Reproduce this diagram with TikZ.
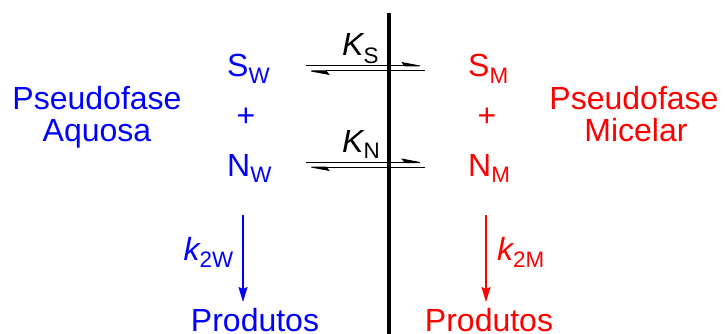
\documentclass[tikz,border=0pt]{standalone}
\usepackage{fontspec}
\setmainfont{Liberation Sans}
\usetikzlibrary{arrows.meta}
\definecolor{aq}{RGB}{0,0,255}
\definecolor{mi}{RGB}{255,0,0}
\begin{document}
\begin{tikzpicture}[x=1pt,y=-1pt,
  lbl/.style={inner sep=0pt,font=\fontsize{32}{36}\selectfont},
  eqline/.style={line width=1pt,-{Stealth[harpoon,length=21pt,width=8pt,inset=3pt]}},
  rxn/.style={line width=1.4pt,-{Stealth[length=15pt,width=9pt,inset=2pt]}}]
\useasboundingbox (0,0) rectangle (725,334);
% membrane line
\coordinate (mtop) at (389,13);
\coordinate (mbot) at (389,334);
\draw[line width=4pt] (mtop) -- (mbot);
% phase labels
\node[lbl,aq,anchor=base] (pa1) at (97,110) {Pseudofase};
\node[lbl,aq,anchor=base] (pa2) at (97,142) {Aquosa};
\node[lbl,mi,anchor=base] (pm1) at (634,110) {Pseudofase};
\node[lbl,mi,anchor=base] (pm2) at (636,142) {Micelar};
% species
\node[lbl,aq,anchor=base west] (sw) at (227,77) {S\textsubscript{W}};
\node[lbl,aq] (pw) at (246,117) {+};
\node[lbl,aq,anchor=base west] (nw) at (227,176) {N\textsubscript{W}};
\node[lbl,mi,anchor=base west] (sm) at (468,77) {S\textsubscript{M}};
\node[lbl,mi] (pmm) at (487,117) {+};
\node[lbl,mi,anchor=base west] (nm) at (468,176) {N\textsubscript{M}};
% equilibria
\coordinate (s1l) at (306,66); \coordinate (s1r) at (425,66);
\coordinate (s2l) at (306,71); \coordinate (s2r) at (425,71);
\draw[eqline] (s1l) -- (s1r);
\draw[eqline] (s2r) -- (s2l);
\node[lbl,anchor=base west] (ks) at (342,56) {\itshape K\textsubscript{\upshape S}};
\coordinate (n1l) at (306,162.5); \coordinate (n1r) at (425,162.5);
\coordinate (n2l) at (306,167); \coordinate (n2r) at (425,167);
\draw[eqline] (n1l) -- (n1r);
\draw[eqline] (n2r) -- (n2l);
\node[lbl,anchor=base west] (kn) at (342,152) {\itshape K\textsubscript{\upshape N}};
% products
\node[lbl,aq,anchor=base] (prw) at (255,331) {Produtos};
\node[lbl,mi,anchor=base] (prm) at (489,331) {Produtos};
\coordinate (aw) at (243,215); \coordinate (bw) at (243,302);
\coordinate (am) at (486,215); \coordinate (bm) at (486,302);
\draw[rxn,aq] (aw) -- (bw);
\draw[rxn,mi] (am) -- (bm);
\node[lbl,aq,anchor=base east] (kw) at (234,260) {\itshape k\textsubscript{\upshape 2W}};
\node[lbl,mi,anchor=base west] (km) at (497,260) {\itshape k\textsubscript{\upshape 2M}};
\end{tikzpicture}
\end{document}
